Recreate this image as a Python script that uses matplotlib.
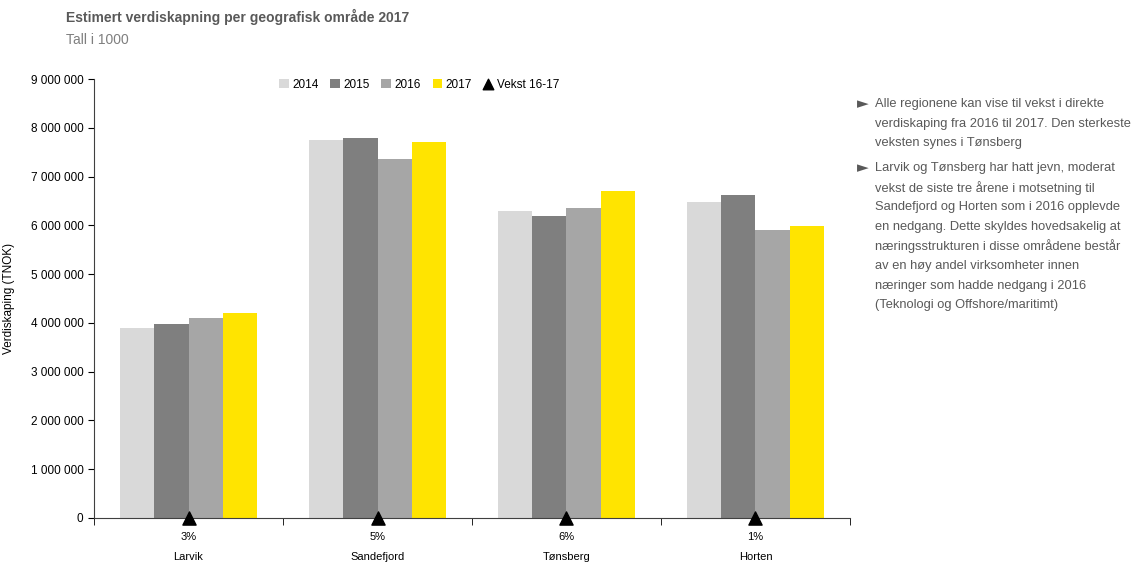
import numpy as np
import matplotlib
matplotlib.use("Agg")
import matplotlib.pyplot as plt
from matplotlib.ticker import FuncFormatter

# === Data ===
regions = ["Larvik", "Sandefjord", "Tønsberg", "Horten"]
growth = ["3%", "5%", "6%", "1%"]
years = ["2014", "2015", "2016", "2017"]
v2014 = [3890000, 7750000, 6290000, 6480000]
v2015 = [3980000, 7800000, 6190000, 6620000]
v2016 = [4100000, 7370000, 6350000, 5900000]
v2017 = [4200000, 7700000, 6710000, 5980000]
colors = ["#d9d9d9", "#7f7f7f", "#a6a6a6", "#ffe400"]

plt.rcParams["font.family"] = ["Liberation Sans", "DejaVu Sans"]

fig = plt.figure(figsize=(11.48, 5.62), dpi=100)
ax = fig.add_axes([0.0819, 0.0783, 0.6585, 0.7811])

x = np.arange(len(regions))
w = 0.18
for i, (vals, yr) in enumerate(zip([v2014, v2015, v2016, v2017], years)):
    ax.bar(x + (i - 1.5) * w, vals, width=w, color=colors[i], label=yr, zorder=2)

# growth markers on the baseline
ax.scatter(x, np.zeros(len(x)), marker="^", s=90, color="black", zorder=4,
           clip_on=False, label="Vekst 16-17")

ax.set_xlim(-0.5, 3.5)
ax.set_ylim(0, 9000000)
ax.set_yticks(np.arange(0, 9000001, 1000000))
ax.yaxis.set_major_formatter(FuncFormatter(lambda v, p: f"{int(v):,}".replace(",", " ")))
ax.tick_params(axis="y", labelsize=8.5, length=4, direction="out")

ax.set_xticks(x)
ax.set_xticklabels([f"{g}\n\n{r}" for g, r in zip(growth, regions)], fontsize=8, linespacing=1.0)
ax.tick_params(axis="x", length=0, pad=10)
ax.set_xticks(np.arange(-0.5, 3.6, 1), minor=True)
ax.tick_params(axis="x", which="minor", length=5, direction="out")

for s in ["top", "right"]:
    ax.spines[s].set_visible(False)
ax.spines["left"].set_color("#404040")
ax.spines["bottom"].set_color("#404040")

ax.set_ylabel("Verdiskaping (TNOK)", fontsize=8.5)
ax.yaxis.set_label_coords(-0.105, 0.5)

handles, labels = ax.get_legend_handles_labels()
order = [1, 2, 3, 4, 0]
ax.legend([handles[i] for i in order], [labels[i] for i in order],
          loc="upper center", bbox_to_anchor=(0.43, 1.025), ncol=5, frameon=False,
          fontsize=8.5, handlelength=0.8, handleheight=0.8, handletextpad=0.3,
          columnspacing=1.0, markerscale=0.8)

# titles
fig.text(66 / 1148, 1 - 17 / 562, "Estimert verdiskapning per geografisk område 2017",
         fontsize=10, fontweight="bold", color="#595959", va="center")
fig.text(66 / 1148, 1 - 40 / 562, "Tall i 1000", fontsize=10, color="#7f7f7f", va="center")

# commentary on the right
grey = "#595959"
bullets = [
    (104, ["Alle regionene kan vise til vekst i direkte",
           "verdiskaping fra 2016 til 2017. Den sterkeste",
           "veksten synes i Tønsberg"]),
    (168, ["Larvik og Tønsberg har hatt jevn, moderat",
           "vekst de siste tre årene i motsetning til",
           "Sandefjord og Horten som i 2016 opplevde",
           "en nedgang. Dette skyldes hovedsakelig at",
           "næringsstrukturen i disse områdene består",
           "av en høy andel virksomheter innen",
           "næringer som hadde nedgang i 2016",
           "(Teknologi og Offshore/maritimt)"]),
]
for y0, lines in bullets:
    fig.text(857 / 1148, 1 - y0 / 562, "►", fontsize=11, color=grey, va="center",
             family=["DejaVu Sans"])
    for k, line in enumerate(lines):
        fig.text(875 / 1148, 1 - (y0 + k * 19.6) / 562, line, fontsize=9.3, color=grey, va="center")

fig.savefig("out.png", dpi=100)
plt.close()
